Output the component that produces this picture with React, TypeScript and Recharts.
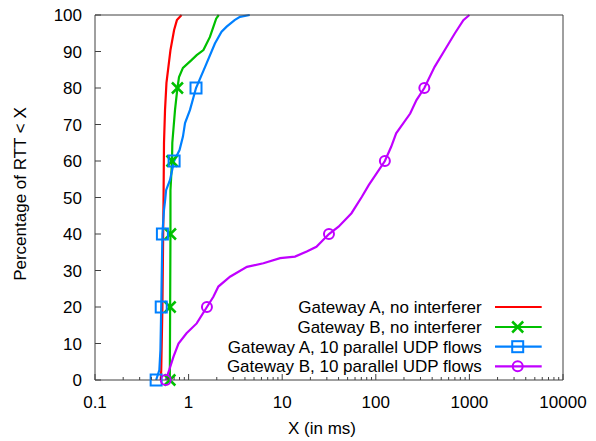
import React from 'react';
import { LineChart, Line, XAxis, YAxis, Legend } from 'recharts';

const FONT = '"Liberation Sans", Arial, Helvetica, sans-serif';
const BORDER = '#404040';

// axis ticks
const xMajorTicks = [0.1, 1, 10, 100, 1000, 10000];
const xTickLabels = ['0.1', '1', '10', '100', '1000', '10000'];
const yTicks = [0, 10, 20, 30, 40, 50, 60, 70, 80, 90, 100];
const markerLevels = [0, 20, 40, 60, 80];

// Gateway A, no interferer
const redX = [0.505, 0.51, 0.525, 0.54, 0.546, 0.56, 0.58, 0.64, 0.7, 0.75, 0.84];
const redY = [0, 2.7, 20, 50, 65, 74, 81.4, 90.4, 95.9, 98.6, 100];

// Gateway B, no interferer
const greenX = [0.63, 0.635, 0.64, 0.64, 0.665, 0.67, 0.716, 0.76, 0.79, 0.87, 1.08, 1.22, 1.44, 1.69, 1.87, 1.97, 2.1];
const greenY = [0, 20, 40, 52, 60, 65, 74, 80, 83, 85.5, 87.7, 89, 90.4, 94, 97.3, 99, 100];

// Gateway A, 10 parallel UDP flows
const blueX = [0.45, 0.487, 0.5, 0.51, 0.525, 0.546, 0.56, 0.575, 0.633, 0.7, 0.8, 0.87, 0.916, 1.035, 1.2, 1.5, 1.91, 2.25, 2.55, 3.1, 3.54, 4.5];
const blueY = [0, 2.7, 8.2, 20, 40, 46.6, 49, 52, 54.8, 60, 63, 66.7, 70.4, 74, 80, 85.8, 92.2, 95.4, 96.8, 98.6, 99.5, 100];

// Gateway B, 10 parallel UDP flows
const purpleX = [0.57, 0.62, 0.69, 0.78, 0.95, 1.22, 1.57, 1.84, 2.08, 2.77, 4.2, 6.3, 9.5, 13.7, 18.3, 23.2, 31.6, 40, 55, 71, 84, 102, 125, 146, 165, 233, 272, 330, 425, 546, 700, 862, 1000];
const purpleY = [0, 2.7, 6.4, 10, 12.8, 15.5, 20, 22.8, 25.6, 28.3, 31, 32, 33.4, 33.8, 35.2, 36.5, 40, 42, 45.7, 50.2, 53.4, 56.6, 60, 63.9, 67.6, 73, 76.7, 80, 85.8, 90.4, 95, 98.6, 100];

const zip = (xs: number[], ys: number[]) => xs.map((x, i) => ({ x, y: ys[i] }));

const series = [
  { name: 'Gateway A, no interferer', color: '#ff0000', marker: 'none', data: zip(redX, redY) },
  { name: 'Gateway B, no interferer', color: '#00c000', marker: 'x', data: zip(greenX, greenY) },
  { name: 'Gateway A, 10 parallel UDP flows', color: '#0080ff', marker: 'square', data: zip(blueX, blueY) },
  { name: 'Gateway B, 10 parallel UDP flows', color: '#c000ff', marker: 'circle', data: zip(purpleX, purpleY) },
];

const xMinorTicks = xMajorTicks.slice(0, -1).flatMap((m) => [2, 3, 4, 5, 6, 7, 8, 9].map((k) => +(m * k).toPrecision(6)));
const xAllTicks = [...xMajorTicks, ...xMinorTicks].sort((a, b) => a - b);

const majorIndex = (v: number) => xMajorTicks.findIndex((m) => Math.abs(m - v) / m < 1e-6);

const Marker = ({ type, cx, cy, color }: { type: string; cx: number; cy: number; color: string }) => {
  if (type === 'x') {
    const s = 5.5;
    return (
      <g stroke={color} strokeWidth={2.5} fill="none">
        <line x1={cx - s} y1={cy - s} x2={cx + s} y2={cy + s} />
        <line x1={cx - s} y1={cy + s} x2={cx + s} y2={cy - s} />
      </g>
    );
  }
  if (type === 'square') {
    return <rect x={cx - 5.5} y={cy - 5.5} width={11} height={11} stroke={color} strokeWidth={2} fill="none" />;
  }
  if (type === 'circle') {
    return <circle cx={cx} cy={cy} r={5} stroke={color} strokeWidth={2} fill="none" />;
  }
  return null;
};

const makeDot = (type: string, color: string) => (props: any) => {
  const { cx, cy, payload, index } = props;
  if (!markerLevels.includes(payload.y)) return <g key={`d${index}`} />;
  return (
    <g key={`d${index}`}>
      <Marker type={type} cx={cx} cy={cy} color={color} />
    </g>
  );
};

const BottomTick = (props: any) => {
  const { x, y, payload } = props;
  const idx = majorIndex(payload.value);
  const major = idx >= 0;
  return (
    <g>
      <line x1={x} x2={x} y1={y} y2={y - (major ? 6 : 3)} stroke={BORDER} strokeWidth={1} />
      {major && (
        <text x={x} y={y + 28} textAnchor="middle" fontSize={17} fontFamily={FONT} fill="#000">
          {xTickLabels[idx]}
        </text>
      )}
    </g>
  );
};

const TopTick = (props: any) => {
  const { x, y, payload } = props;
  const major = majorIndex(payload.value) >= 0;
  return <line x1={x} x2={x} y1={y} y2={y + (major ? 6 : 3)} stroke={BORDER} strokeWidth={1} />;
};

const LeftTick = (props: any) => {
  const { x, y, payload } = props;
  return (
    <g>
      <line x1={x} x2={x + 6} y1={y} y2={y} stroke={BORDER} strokeWidth={1} />
      <text x={x - 13} y={y + 6} textAnchor="end" fontSize={17} fontFamily={FONT} fill="#000">
        {payload.value}
      </text>
    </g>
  );
};

const RightTick = (props: any) => {
  const { x, y } = props;
  return <line x1={x} x2={x - 6} y1={y} y2={y} stroke={BORDER} strokeWidth={1} />;
};

const LEG_LEFT = 208;
const LEG_TOP = 293;

const LegendContent = () => {
  const rowsY = [14, 34, 53.7, 73.3];
  const textRight = 273.7;
  const lineX1 = 287;
  const lineX2 = 333.7;
  const mx = 309.7;
  return (
    <svg width={350} height={90} style={{ display: 'block', overflow: 'visible' }}>
      {series.map((s, i) => (
        <g key={s.name}>
          <text x={textRight} y={rowsY[i] + 6} textAnchor="end" fontSize={17} fontFamily={FONT} fill="#000">
            {s.name}
          </text>
          <line x1={lineX1} x2={lineX2} y1={rowsY[i]} y2={rowsY[i]} stroke={s.color} strokeWidth={2.2} />
          <Marker type={s.marker} cx={mx} cy={rowsY[i]} color={s.color} />
        </g>
      ))}
    </svg>
  );
};

export default function App() {
  return (
    <div style={{ position: 'absolute', left: 0, top: 0 }}>
      <LineChart width={596} height={441} margin={{ top: 10, right: 28, bottom: 0, left: 35 }}>
        <XAxis
          xAxisId={0}
          dataKey="x"
          type="number"
          scale="log"
          domain={[0.1, 10000]}
          ticks={xAllTicks}
          interval={0}
          tickSize={0}
          tickMargin={0}
          tickLine={false}
          tick={<BottomTick />}
          axisLine={{ stroke: BORDER, strokeWidth: 1 }}
          height={61}
          label={{
            content: (p: any) => {
              const vb = p.viewBox;
              return (
                <text x={vb.x + vb.width / 2 - 7} y={vb.y + 54} textAnchor="middle" fontSize={17} fontFamily={FONT} fill="#000">
                  X (in ms)
                </text>
              );
            },
          }}
        />
        <XAxis
          xAxisId="top"
          orientation="top"
          dataKey="x"
          type="number"
          scale="log"
          domain={[0.1, 10000]}
          ticks={xAllTicks}
          interval={0}
          tickSize={0}
          tickMargin={0}
          tickLine={false}
          tick={<TopTick />}
          axisLine={{ stroke: BORDER, strokeWidth: 1 }}
          height={5}
        />
        <YAxis
          yAxisId={0}
          type="number"
          domain={[0, 100]}
          ticks={yTicks}
          interval={0}
          tickSize={0}
          tickMargin={0}
          tickLine={false}
          tick={<LeftTick />}
          axisLine={{ stroke: BORDER, strokeWidth: 1 }}
          width={60}
          label={{
            content: (p: any) => {
              const vb = p.viewBox;
              const cx = vb.x - 15;
              const cy = vb.y + vb.height / 2 - 3.5;
              return (
                <text
                  x={cx}
                  y={cy}
                  transform={`rotate(-90 ${cx} ${cy})`}
                  textAnchor="middle"
                  dominantBaseline="central"
                  fontSize={17}
                  fontFamily={FONT}
                  fill="#000"
                >
                  Percentage of RTT &lt; X
                </text>
              );
            },
          }}
        />
        <YAxis
          yAxisId="right"
          orientation="right"
          type="number"
          domain={[0, 100]}
          ticks={yTicks}
          interval={0}
          tickSize={0}
          tickMargin={0}
          tickLine={false}
          tick={<RightTick />}
          axisLine={{ stroke: BORDER, strokeWidth: 1 }}
          width={5}
        />
        <Legend
          layout="horizontal"
          verticalAlign="middle"
          align="center"
          content={<LegendContent />}
          wrapperStyle={{ position: 'absolute', left: LEG_LEFT, top: LEG_TOP, width: 350, height: 90 }}
        />
        {series.map((s) => (
          <Line
            key={s.name}
            name={s.name}
            data={s.data}
            dataKey="y"
            type="linear"
            stroke={s.color}
            strokeWidth={2.2}
            dot={s.marker === 'none' ? false : makeDot(s.marker, s.color)}
            activeDot={false}
            isAnimationActive={false}
          />
        ))}
      </LineChart>
    </div>
  );
}
